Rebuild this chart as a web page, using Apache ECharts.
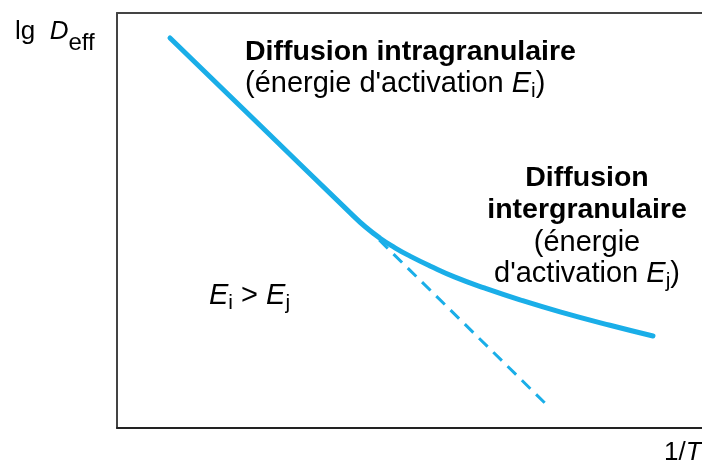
<!DOCTYPE html>
<html><head><meta charset="utf-8">
<script src="https://cdn.jsdelivr.net/npm/echarts@6/dist/echarts.min.js"></script>
<style>html,body{margin:0;padding:0;background:#fff}#c{width:702px;height:466px}</style>
</head><body><div id="c"></div>
<script>
// Abstract axis scale (no ticks in original): 1/T horizontally, lg Deff vertically
var curveX = [9.06, 24.44, 39.83, 42.39, 44.96, 47.52, 50.09, 53.50, 57.78, 62.91, 68.89, 75.73, 84.27, 91.62];
var curveY = [93.98, 72.94, 51.90, 48.55, 45.73, 43.42, 41.42, 39.06, 36.36, 33.69, 30.89, 28.00, 24.75, 22.17];
var dashX = [42.39, 73.50];
var dashY = [48.67, 5.54];

var FONT = 'Liberation Sans';
var TXT = '#231f20';
var BLUE = '#1aaee8';

function pairs(xs, ys) { return xs.map(function (x, i) { return [x, ys[i]]; }); }

var rich = {
  n: { fontFamily: FONT, fontSize: 29, color: TXT, lineHeight: 32, verticalAlign: 'top' },
  b: { fontFamily: FONT, fontSize: 28.5, fontWeight: 'bold', color: TXT, lineHeight: 32, verticalAlign: 'top' },
  it: { fontFamily: FONT, fontSize: 29, fontStyle: 'italic', color: TXT, lineHeight: 32, verticalAlign: 'top' },
  s: { fontFamily: FONT, fontSize: 21, color: TXT, lineHeight: 22, verticalAlign: 'top', padding: [12, 0, 0, 0] },
  n2: { fontFamily: FONT, fontSize: 26, color: TXT, lineHeight: 30, verticalAlign: 'top' },
  it2: { fontFamily: FONT, fontSize: 26, fontStyle: 'italic', color: TXT, lineHeight: 30, verticalAlign: 'top' },
  s2: { fontFamily: FONT, fontSize: 24, color: TXT, lineHeight: 22, verticalAlign: 'top', padding: [12, 0, 0, 0] }
};

function txt(x, y, text, align) {
  return { type: 'text', x: x, y: y, style: { text: text, rich: rich, align: align || 'left', verticalAlign: 'top' } };
}

var chart = echarts.init(document.getElementById('c'), null, { renderer: 'canvas' });
chart.setOption({
  animation: false,
  backgroundColor: '#fff',
  grid: { left: 117, right: 0, top: 13, bottom: 38 },
  xAxis: [
    { type: 'value', min: 0, max: 100, position: 'bottom', axisLine: { show: true, onZero: false, lineStyle: { color: '#222', width: 2 } }, axisTick: { show: false }, axisLabel: { show: false }, splitLine: { show: false } },
    { type: 'value', min: 0, max: 100, position: 'top', axisLine: { show: true, onZero: false, lineStyle: { color: '#444', width: 2 } }, axisTick: { show: false }, axisLabel: { show: false }, splitLine: { show: false } }
  ],
  yAxis: { type: 'value', min: 0, max: 100, axisLine: { show: true, onZero: false, lineStyle: { color: '#444', width: 2 } }, axisTick: { show: false }, axisLabel: { show: false }, splitLine: { show: false } },
  series: [
    { type: 'line', data: pairs(curveX, curveY), smooth: 0.5, showSymbol: false, lineStyle: { color: BLUE, width: 5, cap: 'round' }, z: 3 },
    { type: 'line', data: pairs(dashX, dashY), showSymbol: false, lineStyle: { color: BLUE, width: 3, type: [12, 8] }, z: 2 }
  ],
  graphic: [
    txt(15, 19, '{n2|lg  }{it2|D}{s2|eff}'),
    txt(664, 440, '{n2|1/}{it2|T}'),
    txt(245, 38, '{b|Diffusion intragranulaire}'),
    txt(245, 69, '{n|(énergie d\'activation }{it|E}{s|i}{n|)}'),
    txt(587, 164, '{b|Diffusion}', 'center'),
    txt(587, 196, '{b|intergranulaire}', 'center'),
    txt(587, 228, '{n|(énergie}', 'center'),
    txt(587, 259, '{n|d\'activation }{it|E}{s|j}{n|)}', 'center'),
    txt(209, 281, '{it|E}{s|i}{n| > }{it|E}{s|j}')
  ]
});
</script></body></html>
